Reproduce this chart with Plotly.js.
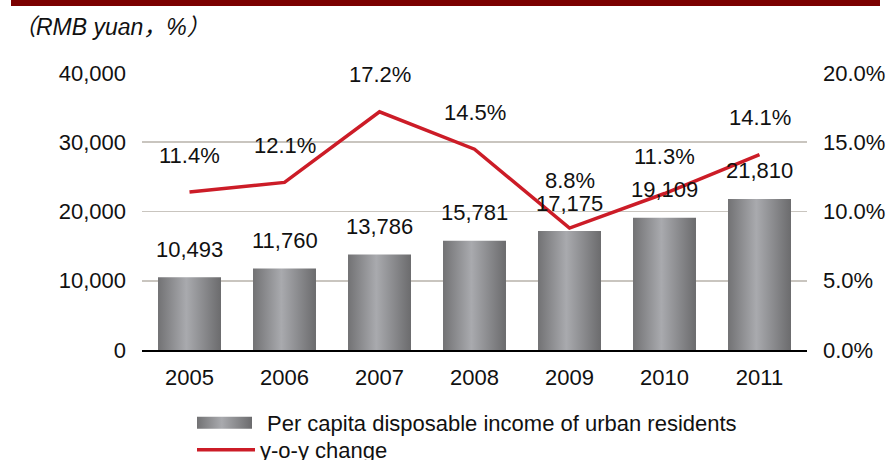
<!DOCTYPE html>
<html>
<head>
<meta charset="utf-8">
<script src="https://cdn.plot.ly/plotly-3.0.1.min.js"></script>
<style>
  html, body { margin: 0; padding: 0; background: #fff; }
  #chart { width: 890px; height: 460px; }
</style>
</head>
<body>
<div id="chart"></div>
<script>
// ---- data ----
var years = ['2005', '2006', '2007', '2008', '2009', '2010', '2011'];
var income = [10493, 11760, 13786, 15781, 17175, 19109, 21810];
var yoy = [11.4, 12.1, 17.2, 14.5, 8.8, 11.3, 14.1];
var incomeName = 'Per capita disposable income of urban residents';
var yoyName = 'y-o-y change';
var unitLabel = '（RMB yuan，%）';

var FONT = '"Liberation Sans", Arial, "Noto Sans CJK SC", sans-serif';

var barTrace = {
  type: 'bar',
  x: years,
  y: income,
  name: incomeName,
  marker: { color: '#8e8e91', line: { width: 0 } },
  yaxis: 'y',
  legend: 'legend',
  hoverinfo: 'skip'
};
var lineTrace = {
  type: 'scatter',
  mode: 'lines',
  x: years,
  y: yoy,
  name: yoyName,
  line: { color: '#cc1c27', width: 3.5 },
  yaxis: 'y2',
  legend: 'legend2',
  hoverinfo: 'skip'
};

var annotations = [];
years.forEach(function (yr, i) {
  annotations.push({
    x: i, y: income[i], xref: 'x', yref: 'y',
    text: income[i].toLocaleString('en-US'),
    showarrow: false, yanchor: 'middle', yshift: 28,
    font: { family: FONT, size: 22, color: '#111' }
  });
  annotations.push({
    x: i, y: yoy[i], xref: 'x', yref: 'y2',
    text: yoy[i].toFixed(1) + '%',
    showarrow: false, yanchor: 'middle', yshift: (yr === '2009' ? 48 : 37),
    font: { family: FONT, size: 22, color: '#111' }
  });
});

var legendFont = { family: FONT, size: 22, color: '#111' };

var layout = {
  width: 890, height: 460,
  margin: { l: 142, r: 83, t: 73, b: 110, autoexpand: false },
  paper_bgcolor: '#ffffff',
  plot_bgcolor: '#ffffff',
  font: { family: FONT, size: 22, color: '#111' },
  showlegend: true,
  bargap: 0.337,
  title: {
    text: unitLabel,
    xref: 'container', yref: 'container',
    x: 13 / 890, xanchor: 'left',
    y: 1 - 27 / 460, yanchor: 'middle',
    font: { family: FONT, size: 23, style: 'italic', color: '#111' }
  },
  xaxis: {
    type: 'category',
    categoryorder: 'array', categoryarray: years,
    range: [-0.5, years.length - 0.5],
    showline: true, linecolor: '#000', linewidth: 2,
    showgrid: false, zeroline: false,
    ticks: '', ticklabelstandoff: 7,
    tickfont: { family: FONT, size: 22, color: '#111' }
  },
  yaxis: {
    range: [0, 40000], dtick: 10000, tickformat: ',d',
    showgrid: true, gridcolor: '#c9c5bf', gridwidth: 1.6,
    zeroline: false, showline: false,
    ticks: '', ticklabelstandoff: 15,
    tickfont: { family: FONT, size: 22, color: '#111' }
  },
  yaxis2: {
    overlaying: 'y', side: 'right',
    range: [0, 20], dtick: 5, tickformat: '.1f', ticksuffix: '%',
    showgrid: false, zeroline: false, showline: false,
    ticks: '', ticklabelstandoff: 15,
    tickfont: { family: FONT, size: 22, color: '#111' }
  },
  legend: {
    orientation: 'v',
    xref: 'container', yref: 'container',
    x: 182 / 890, xanchor: 'left',
    y: 1 - 423 / 460, yanchor: 'middle',
    itemwidth: 75,
    bgcolor: 'rgba(0,0,0,0)',
    font: legendFont
  },
  legend2: {
    orientation: 'v',
    xref: 'container', yref: 'container',
    x: 192 / 890, xanchor: 'left',
    y: 1 - 450 / 460, yanchor: 'middle',
    itemwidth: 58,
    bgcolor: 'rgba(0,0,0,0)',
    font: legendFont
  },
  shapes: [{
    type: 'rect', xref: 'paper', yref: 'paper',
    x0: (11 - 142) / 665, x1: (880 - 142) / 665,
    y0: 1 + 67 / 277, y1: 1 + 73 / 277,
    fillcolor: '#7b0000', line: { width: 0 }
  }],
  annotations: annotations
};

function applyGradient(gd) {
  var svg = gd.querySelector('svg.main-svg');
  if (!svg) return;
  var ns = 'http://www.w3.org/2000/svg';
  var defs = svg.querySelector('defs');
  if (!defs) { defs = document.createElementNS(ns, 'defs'); svg.insertBefore(defs, svg.firstChild); }
  if (!svg.querySelector('#barGrad')) {
    var lg = document.createElementNS(ns, 'linearGradient');
    lg.setAttribute('id', 'barGrad');
    lg.setAttribute('x1', '0'); lg.setAttribute('y1', '0');
    lg.setAttribute('x2', '1'); lg.setAttribute('y2', '0');
    [['0', '#727274'], ['0.45', '#a9aaae'], ['1', '#6b6b6d']].forEach(function (s) {
      var st = document.createElementNS(ns, 'stop');
      st.setAttribute('offset', s[0]);
      st.setAttribute('stop-color', s[1]);
      lg.appendChild(st);
    });
    defs.appendChild(lg);
  }
  gd.querySelectorAll('.barlayer .point path').forEach(function (p) {
    p.style.fill = 'url(#barGrad)';
  });
  gd.querySelectorAll('.legend .legendpoints path').forEach(function (p) {
    p.setAttribute('d', 'M-27.5,-6H27.5V6H-27.5Z');
    p.style.fill = 'url(#barGrad)';
    p.style.stroke = 'none';
  });
}

var gd = document.getElementById('chart');
Plotly.newPlot(gd, [barTrace, lineTrace], layout, { staticPlot: true, displayModeBar: false })
  .then(function () { applyGradient(gd); });
</script>
</body>
</html>
